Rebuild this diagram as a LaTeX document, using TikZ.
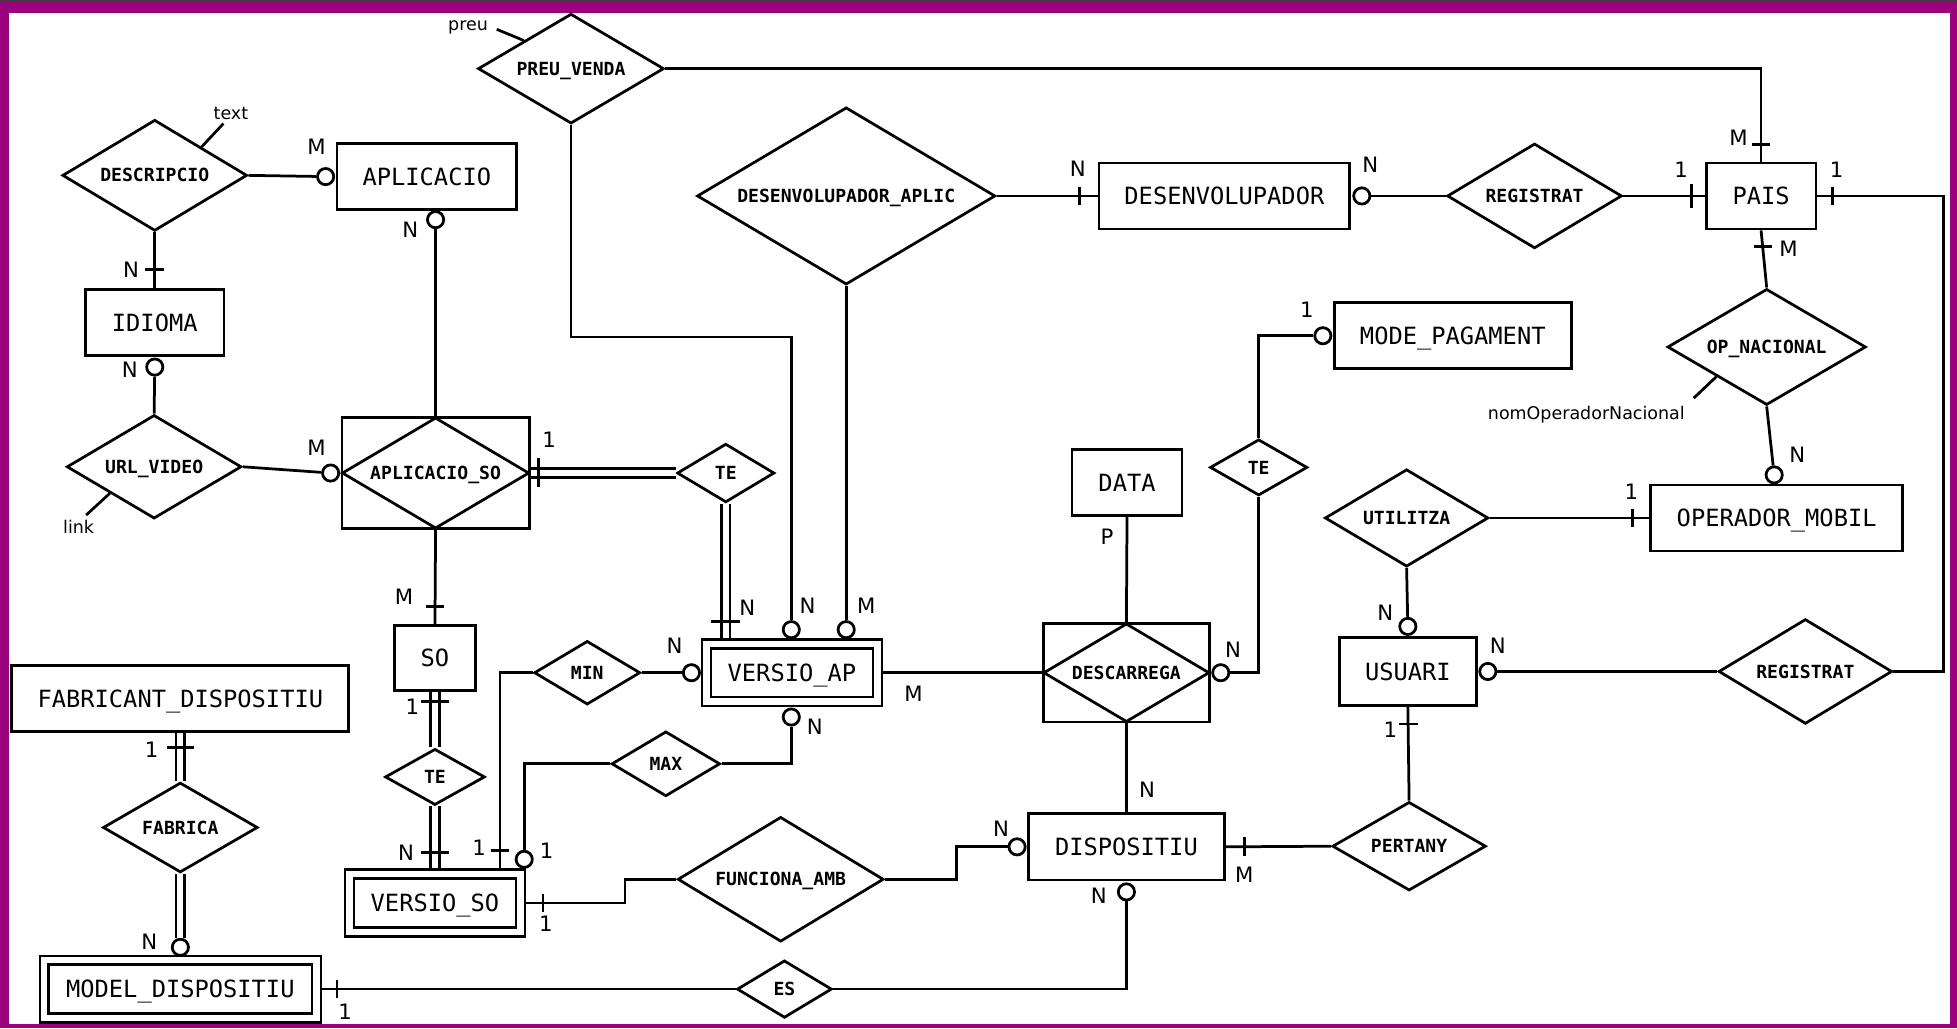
\documentclass[tikz,border=0pt]{standalone}
\usepackage{fontspec}
\usetikzlibrary{shapes.geometric,calc}
\newfontfamily\entf{DejaVu Sans Mono}
\newfontfamily\labf{DejaVu Sans}
\definecolor{framecol}{RGB}{155,0,125}
\definecolor{stripcol}{RGB}{60,60,60}
\begin{document}
\begin{tikzpicture}[x=1pt,y=-1pt,line width=2.2pt,
  sz/.style 2 args={minimum width=#1pt,minimum height=#2pt},
  entfont/.style={font=\entf\fontsize{19}{19}\selectfont,text height=13.9pt,text depth=0pt},
  relfont/.style={font=\entf\bfseries\fontsize{14.5}{14.5}\selectfont,text height=10.6pt,text depth=0pt},
  ent/.style={draw,rectangle,fill=white,inner sep=0pt,entfont},
  weak/.style={draw,rectangle,fill=white,inner sep=0pt,double,double distance=5pt,line width=2pt,outer sep=4.5pt,entfont},
  rel/.style={draw,diamond,fill=white,inner sep=0pt,shape aspect=1.7,relfont},
  assocbox/.style={draw,rectangle,fill=white,inner sep=0pt,relfont},
  assocdia/.style={draw,diamond,inner sep=0pt,shape aspect=1.7},
  ocirc/.style={draw,circle,fill=white,inner sep=0pt,minimum size=13pt},
  card/.style={font=\labf\fontsize{17}{17}\selectfont,inner sep=0pt,text height=12.4pt,text depth=0pt},
  attr/.style={font=\labf\fontsize{14}{14}\selectfont,inner sep=0pt},
  dbl/.style={double,double distance=5pt,line width=2pt},
  tick/.style={line width=2.2pt}
]
\useasboundingbox (0,0) rectangle (1568,824);
\fill[framecol] (0,0) rectangle (1568,824);
\fill[white] (7.4,10.2) rectangle (1562.5,820.8);
\fill[stripcol] (0,0) rectangle (1568,1.8);

% ---------- entities ----------
\node[ent,sz={144}{53}] (aplic) at (342,141.5) {APLICACIO};
\node[ent,sz={111}{53}] (idioma) at (124,258.5) {IDIOMA};
\node[ent,sz={201}{53}] (desenv) at (981,157) {DESENVOLUPADOR};
\node[ent,sz={88}{53}] (pais) at (1411,157) {PAIS};
\node[ent,sz={190}{53}] (modepag) at (1164,269) {MODE\_PAGAMENT};
\node[ent,sz={88}{53}] (data) at (903,386.5) {DATA};
\node[ent,sz={202}{53}] (opmob) at (1423.5,415) {OPERADOR\_MOBIL};
\node[ent,sz={110}{54}] (usuari) at (1128,538) {USUARI};
\node[ent,sz={65}{52}] (so) at (348.5,527) {SO};
\node[ent,sz={270}{53}] (fabr) at (144.5,559.6) {FABRICANT\_DISPOSITIU};
\node[ent,sz={157}{53}] (dispos) at (902.5,678.5) {DISPOSITIU};
\node[weak,sz={137}{46}] (versioap) at (634.5,539) {VERSIO\_AP};
\node[weak,sz={137}{46.5}] (versioso) at (348.5,723.5) {VERSIO\_SO};
\node[weak,sz={218}{46.4}] (model) at (144.5,792.5) {MODEL\_DISPOSITIU};

% ---------- associative entities ----------
\node[assocbox,sz={150}{89}] (aplicso) at (349,379) {APLICACIO\_SO};
\node[assocdia,sz={150}{89}] (aplicsod) at (aplicso.center) {};
\node[assocbox,sz={133}{79}] (descarrega) at (902.5,539) {DESCARREGA};
\node[assocdia,sz={133}{79}] (descarregad) at (descarrega.center) {};

% ---------- relationships ----------
\node[rel,sz={148}{89}] (descripcio) at (124,140.5) {DESCRIPCIO};
\node[rel,sz={149}{88}] (preuv) at (457.5,55) {PREU\_VENDA};
\node[rel,sz={239}{142}] (desapl) at (678,157) {DESENVOLUPADOR\_APLIC};
\node[rel,sz={140}{84}] (regtop) at (1229.5,157) {REGISTRAT};
\node[rel,sz={159}{93}] (opnac) at (1415.5,278) {OP\_NACIONAL};
\node[rel,sz={131}{78}] (utilitza) at (1127,415) {UTILITZA};
\node[rel,sz={139}{84}] (regbot) at (1446.5,538) {REGISTRAT};
\node[rel,sz={123}{71}] (pertany) at (1129,678) {PERTANY};
\node[rel,sz={78}{45}] (teright) at (1008.5,374.5) {TE};
\node[rel,sz={78}{47}] (temid) at (581.5,379) {TE};
\node[rel,sz={80}{45}] (telow) at (348.5,622.5) {TE};
\node[rel,sz={87}{52}] (nmax) at (533.5,612) {MAX};
\node[rel,sz={85}{51}] (nmin) at (470.5,539) {MIN};
\node[rel,sz={165}{100}] (funciona) at (625.5,704.5) {FUNCIONA\_AMB};
\node[rel,sz={76}{46}] (nes) at (628.5,792.5) {ES};
\node[rel,sz={124}{72}] (fabrica) at (144.5,663) {FABRICA};
\node[rel,sz={140}{83}] (urlvideo) at (123.5,374) {URL\_VIDEO};

% ---------- optional-end circles ----------
\node[ocirc] (cDesc) at ($(aplic.west)+(-8,0)$) {};
\node[ocirc] (cIdi) at ($(idioma.south)+(0,8)$) {};
\node[ocirc] (cUrl) at ($(aplicso.west)+(-8,0)$) {};
\node[ocirc] (cApl) at (349,176) {};
\node[ocirc] (cVapN) at (634,504.5) {};
\node[ocirc] (cVapM) at (678,504.5) {};
\node[ocirc] (cVapW) at (554,539) {};
\node[ocirc] (cVapS) at (634,574.5) {};
\node[ocirc] (cVso) at (420,688.5) {};
\node[ocirc] (cDisW) at ($(dispos.west)+(-8,0)$) {};
\node[ocirc] (cDisS) at ($(dispos.south)+(0,8.5)$) {};
\node[ocirc] (cModel) at (144.5,759) {};
\node[ocirc] (cDescR) at ($(descarrega.east)+(8,0)$) {};
\node[ocirc] (cMode) at ($(modepag.west)+(-8,0)$) {};
\node[ocirc] (cDesenv) at ($(desenv.east)+(8.5,0)$) {};
\node[ocirc] (cOpmob) at (1421.5,380.5) {};
\node[ocirc] (cUsuN) at ($(usuari.north)+(0,-8)$) {};
\node[ocirc] (cUsuE) at ($(usuari.east)+(8,0)$) {};

% ---------- bend points ----------
\coordinate (kPreu) at (634,270);
\coordinate (kRight) at (1557,157);
\coordinate (kMinX) at (400.6,0);
\coordinate (kVso) at (500.8,723.5);
\coordinate (kFun) at (766.4,704.5);

% ---------- connectors ----------
\draw (descripcio.east) -- (cDesc);
\draw (descripcio.south) -- (idioma.north);
\draw (cIdi) -- (urlvideo.north);
\draw (urlvideo.east) -- (cUrl);
\draw (cApl) -- (aplicso.north);
\draw (aplicso.south) -- (so.north);
\draw[dbl] (aplicso.east) -- (temid.west);
\draw[dbl] (temid.south) -- (temid.south |- versioap.north);
\draw (preuv.south) |- (kPreu) -- (cVapN);
\draw (desapl.south) -- (cVapM);
\draw (desapl.east) -- (desenv.west);
\draw (cDesenv) -- (regtop.west);
\draw (regtop.east) -- (pais.west);
\draw (preuv.east) -| (pais.north);
\draw (pais.east) -- (kRight) |- (regbot.east);
\draw (pais.south) -- (opnac.north);
\draw (opnac.south) -- (cOpmob);
\draw (utilitza.east) -- (opmob.west);
\draw (utilitza.south) -- (cUsuN);
\draw (cUsuE) -- (regbot.west);
\draw (usuari.south) -- (pertany.north);
\draw (pertany.west) -- (dispos.east);
\draw (descarrega.south) -- (dispos.north);
\draw (data.south) -- (descarrega.north);
\draw (versioap.east) -- (descarrega.west);
\draw (cDescR) -| (teright.south);
\draw (teright.north) |- (cMode);
\draw (nmin.east) -- (cVapW);
\draw (nmin.west) -| (kMinX |- versioso.north);
\draw (cVapS) |- (nmax.east);
\draw (nmax.west) -| (cVso);
\draw[dbl] (so.south) -- (telow.north);
\draw[dbl] (telow.south) -- (versioso.north);
\draw (versioso.east) -- (kVso) |- (funciona.west);
\draw (funciona.east) -- (kFun) |- (cDisW);
\draw (nes.east) -| (cDisS);
\draw (model.east) -- (nes.west);
\draw[dbl] (fabr.south) -- (fabrica.north);
\draw[dbl] (fabrica.south) -- (cModel);

% ---------- attributes ----------
\node[attr] (aText) at (185,91) {text};
\node[attr] (aPreu) at (375,22) {preu};
\node[attr] (aLink) at (63,422) {link};
\node[attr] (aNom) at (1271,332) {nomOperadorNacional};
\coordinate (eText) at (179,99);
\coordinate (ePreu) at (398,23.5);
\coordinate (eLink) at (69,412.7);
\coordinate (eNom) at (1357,319);
\draw (eText) -- (descripcio.north east);
\draw (ePreu) -- (preuv.north west);
\draw (eLink) -- (urlvideo.south west);
\draw (eNom) -- (opnac.south west);

% ---------- single ticks ----------
\draw[tick] (116.5,216) -- (131.5,216);
\draw[tick] (341,486) -- (356,486);
\draw[tick] (865,149.5) -- (865,164.5);
\draw[tick] (1355.5,147.5) -- (1355.5,166.5);
\draw[tick] (1403.5,115.7) -- (1418.5,115.7);
\draw[tick] (1468,149.5) -- (1468,164.5);
\draw[tick] (1405,197.7) -- (1420,197.7);
\draw[tick] (1308,407.5) -- (1308,422.5);
\draw[tick] (1121,580) -- (1136,580);
\draw[tick] (997,671) -- (997,686);
\draw[tick] (393,681.6) -- (408,681.6);
\draw[tick] (435,716) -- (435,731);
\draw[tick] (270,785) -- (270,800);
% ---------- double-line ticks ----------
\draw[tick] (431.7,367) -- (431.7,390);
\draw[tick] (570,498) -- (593,498);
\draw[tick] (337.5,562) -- (359.5,562);
\draw[tick] (337.5,683) -- (359.5,683);
\draw[tick] (133.5,598.8) -- (155.5,598.8);

% ---------- cardinalities ----------
\node[card] (l1) at (253.6,117.5) {M};
\node[card] (l2) at (105,216) {N};
\node[card] (l3) at (104,296.5) {N};
\node[card] (l4) at (253.6,358.4) {M};
\node[card] (l5) at (328.7,184) {N};
\node[card] (l6) at (323.7,478) {M};
\node[card] (l7) at (440,352.6) {1};
\node[card] (l8) at (598.8,487) {N};
\node[card] (l9) at (647,485) {N};
\node[card] (l10) at (694,485) {M};
\node[card] (l11) at (863.6,135) {N};
\node[card] (l12) at (1098,132) {N};
\node[card] (l13) at (1347,135.7) {1};
\node[card] (l14) at (1393,110) {M};
\node[card] (l15) at (1471.6,135.7) {1};
\node[card] (l16) at (1433,199) {M};
\node[card] (l17) at (1440,364.6) {N};
\node[card] (l18) at (1307,394) {1};
\node[card] (l19) at (1110,491) {N};
\node[card] (l20) at (1200,517) {N};
\node[card] (l21) at (1114,585) {1};
\node[card] (l22) at (997,701) {M};
\node[card] (l23) at (919,633) {N};
\node[card] (l24) at (887,430) {P};
\node[card] (l25) at (732,555.5) {M};
\node[card] (l26) at (988,521) {N};
\node[card] (l27) at (1047,248) {1};
\node[card] (l28) at (540.5,517) {N};
\node[card] (l29) at (383.8,679.6) {1};
\node[card] (l30) at (652.8,582) {N};
\node[card] (l31) at (438,682) {1};
\node[card] (l32) at (330.5,566) {1};
\node[card] (l33) at (325.4,683) {N};
\node[card] (l34) at (437.4,740) {1};
\node[card] (l35) at (802,663.7) {N};
\node[card] (l36) at (880.4,718) {N};
\node[card] (l37) at (276.6,810.6) {1};
\node[card] (l38) at (121.4,601) {1};
\node[card] (l39) at (119.7,754.6) {N};
\end{tikzpicture}
\end{document}
